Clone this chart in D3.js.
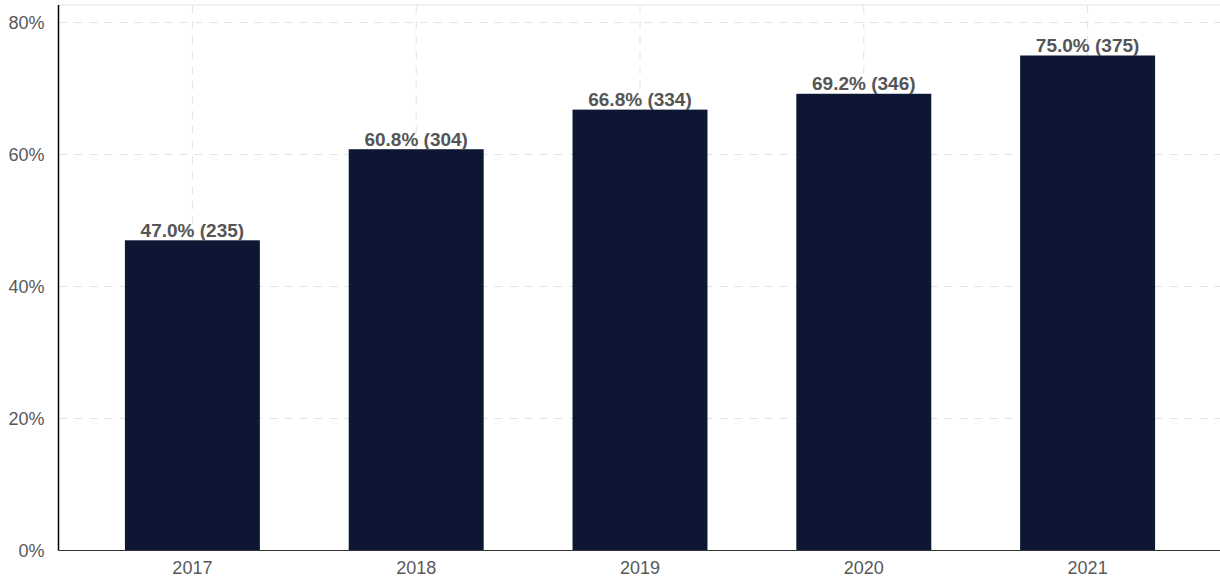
<!DOCTYPE html>
<html>
<head>
<meta charset="utf-8">
<script src="https://cdn.jsdelivr.net/npm/d3@7"></script>
<style>
  html, body { margin: 0; padding: 0; background: #fff; }
  svg { display: block; font-family: "Liberation Sans", Arial, sans-serif; }
</style>
</head>
<body>
<svg id="chart" width="1220" height="582"></svg>
<script>
// Yearly share and count
const years = ["2017", "2018", "2019", "2020", "2021"];
const shares = [47.0, 60.8, 66.8, 69.2, 75.0];
const counts = [235, 304, 334, 346, 375];
const yTicks = [0, 20, 40, 60, 80];

const W = 1220, H = 582;
const m = { top: 5, right: 0, bottom: 31.5, left: 58.5 };
const FONT = "Liberation Sans, Arial, sans-serif";

const svg = d3.select("#chart");

const x = d3.scaleBand()
  .domain(years)
  .range([m.left + 1.5, W - m.right])
  .paddingInner(0.397)
  .paddingOuter(0.29);

const y = d3.scaleLinear()
  .domain([0, 80])
  .range([H - m.bottom, 22.5]);

// top border of the plot
svg.append("line")
  .attr("x1", m.left).attr("x2", W)
  .attr("y1", m.top).attr("y2", m.top)
  .attr("stroke", "#ededed").attr("stroke-width", 1.5);

// horizontal grid
svg.append("g")
  .selectAll("line")
  .data(yTicks.filter(d => d > 0))
  .join("line")
  .attr("x1", m.left + 1).attr("x2", W)
  .attr("y1", d => y(d)).attr("y2", d => y(d))
  .attr("stroke", "#e3e3e3")
  .attr("stroke-dasharray", "8,7");

// vertical grid at category centres
svg.append("g")
  .selectAll("line")
  .data(years)
  .join("line")
  .attr("x1", d => x(d) + x.bandwidth() / 2)
  .attr("x2", d => x(d) + x.bandwidth() / 2)
  .attr("y1", m.top + 1).attr("y2", H - m.bottom)
  .attr("stroke", "#e3e3e3")
  .attr("stroke-dasharray", "8,7");

// bars
svg.append("g")
  .selectAll("rect")
  .data(years)
  .join("rect")
  .attr("x", d => x(d))
  .attr("width", x.bandwidth())
  .attr("y", (d, i) => y(shares[i]))
  .attr("height", (d, i) => y(0) - y(shares[i]))
  .attr("fill", "#0d1632");

// value labels
svg.append("g")
  .selectAll("text")
  .data(years)
  .join("text")
  .attr("x", d => x(d) + x.bandwidth() / 2)
  .attr("y", (d, i) => y(shares[i]) - 3.5)
  .attr("text-anchor", "middle")
  .attr("font-family", FONT)
  .attr("font-size", 19)
  .attr("font-weight", "bold")
  .attr("fill", "#555")
  .text((d, i) => `${shares[i].toFixed(1)}% (${counts[i]})`);

// y axis
const yAxis = svg.append("g")
  .attr("transform", `translate(${m.left},0)`)
  .call(d3.axisLeft(y).tickValues(yTicks).tickFormat(d => d + "%").tickSize(0).tickPadding(14));
yAxis.select(".domain")
  .attr("d", `M0,${m.top}V${H - m.bottom}`)
  .attr("stroke", "#000").attr("stroke-width", 1.5);
yAxis.selectAll("text")
  .attr("font-size", 18).attr("fill", "#595959")
  .attr("font-family", FONT);

// x axis
const xAxis = svg.append("g")
  .attr("transform", `translate(0,${H - m.bottom})`)
  .call(d3.axisBottom(x).tickSize(0).tickPadding(10.5));
xAxis.select(".domain")
  .attr("d", `M${m.left},0H${W}`)
  .attr("stroke", "#333").attr("stroke-width", 1.2);
xAxis.selectAll("text")
  .attr("font-size", 18).attr("fill", "#595959")
  .attr("font-family", FONT);
</script>
</body>
</html>
